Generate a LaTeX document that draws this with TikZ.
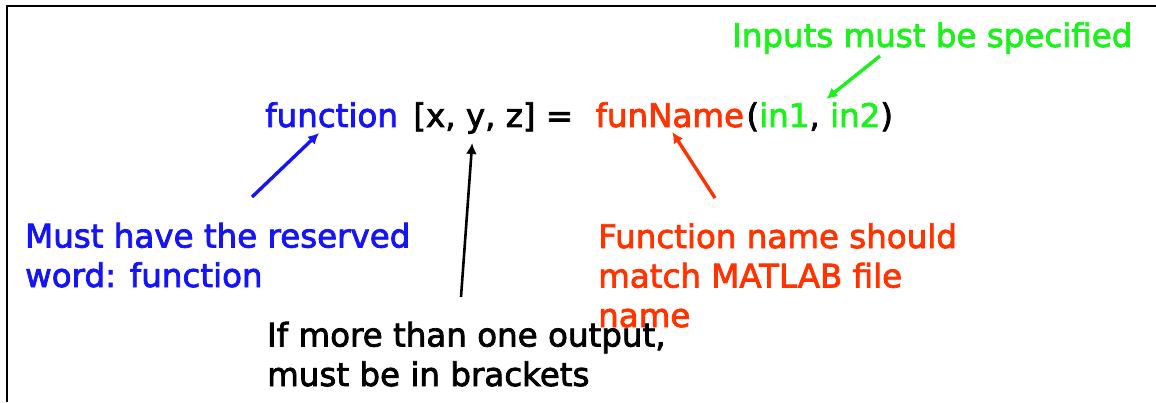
\documentclass[tikz,border=0pt]{standalone}
\usepackage{fontspec}
\setmainfont{DejaVu Sans}[FakeBold=2.4]
\usepackage{xcolor}
\definecolor{kwblue}{RGB}{20, 20, 245}
\definecolor{namered}{RGB}{255, 51, 0}
\definecolor{ingreen}{RGB}{30, 240, 30}
\usetikzlibrary{arrows.meta, positioning}

\begin{document}
\begin{tikzpicture}[
        x=1pt, y=1pt,
        code/.style={
            inner sep=0pt,
            anchor=base west,
            font=\fontsize{32.5}{39}\selectfont
        },
        note/.style={
            inner sep=0pt,
            anchor=base west,
            align=left,
            font=\fontsize{32.5}{39.5}\selectfont
        },
        arr/.style={-{Latex[length=11pt, width=11pt]}, line width=3.4pt},
        frame/.style={line width=2.5pt, black}
    ]
        \useasboundingbox (0,0) rectangle (1156,402);
        % Frame
        \draw[frame] (1156,396) -- (7,396) -- (7,0);
        % Statement
        \node[code, text=kwblue] (kw) at (265,275) {function};
        \node[code] (outs) at ([xshift=15pt]kw.base east) {[x, y, z] =};
        \node[code, text=namered] (fname) at ([xshift=22pt]outs.base east) {funName};
        \node[code] (args) at ([xshift=2pt]fname.base east) {(\textcolor{ingreen}{in1}, \textcolor{ingreen}{in2})};
        % Notes (anchored at last line)
        \node[note, text=ingreen] (gnote) at (732,355) {Inputs must be specified};
        \node[note, text=kwblue] (bnote) at (25,115) {Must have the reserved\\word: function};
        \node[note, text=namered] (rnote) at (598,75) {Function name should\\match MATLAB file\\name};
        \node[note] (knote) at (267,16) {If more than one output,\\must be in brackets};
        % Arrows
        \draw[arr, kwblue] ([shift={(227,90)}]bnote.base west) -- ([shift={(54,-6)}]kw.base west);
        \draw[arr, black, line width=2.6pt] ([shift={(194,89)}]knote.base west) -- ([shift={(59,-16)}]outs.base west);
        \draw[arr, namered] ([shift={(117,129)}]rnote.base west) -- ([shift={(77,-5)}]fname.base west);
        \draw[arr, ingreen] ([shift={(148,-9)}]gnote.base west) -- ([shift={(80,28)}]args.base west);
    \end{tikzpicture}
\end{document}
